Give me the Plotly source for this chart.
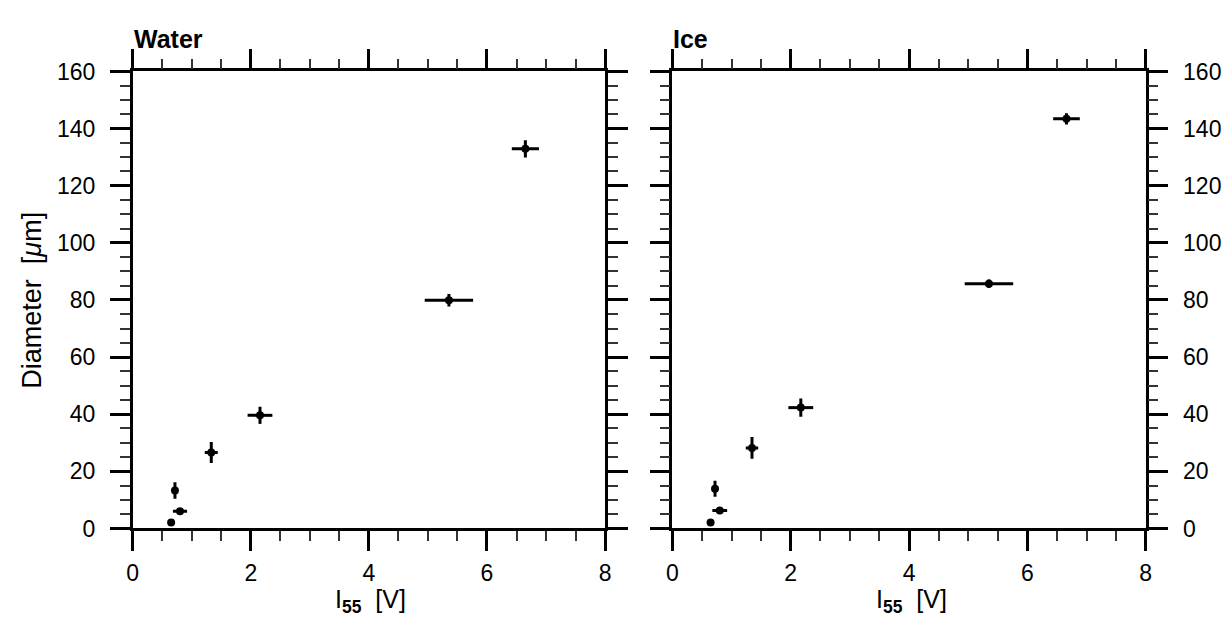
import plotly.graph_objects as go

# Calibration points: sensor voltage I55 vs. particle diameter
water_x = [0.65, 0.80, 0.715, 1.33, 2.155, 5.355, 6.65]
water_y = [2.1, 6.0, 13.3, 26.6, 39.6, 79.9, 132.9]
water_xerr = [0.0, 0.12, 0.03, 0.11, 0.21, 0.41, 0.23]
water_yerr = [0.0, 1.0, 2.9, 3.7, 3.0, 2.2, 3.0]

ice_x = [0.645, 0.80, 0.72, 1.345, 2.17, 5.35, 6.66]
ice_y = [2.1, 6.3, 13.9, 28.2, 42.3, 85.7, 143.4]
ice_xerr = [0.0, 0.125, 0.03, 0.105, 0.21, 0.41, 0.225]
ice_yerr = [0.0, 1.0, 2.8, 3.8, 3.2, 1.5, 2.0]

panel_titles = ["Water", "Ice"]
x_title = "I<sub><b>55</b></sub>\u00a0\u00a0[V]"
y_title = "Diameter\u00a0\u00a0[<i>\u03bc</i>m]"

W, H = 1227, 620
FONT = "Liberation Sans, Arial, sans-serif"

fig = go.Figure()


def add_series(x, y, xe, ye, xa, ya):
    fig.add_trace(go.Scatter(
        x=x, y=y, mode="markers", xaxis=xa, yaxis=ya,
        marker=dict(color="black", size=8),
        error_x=dict(type="data", array=xe, visible=True, color="black",
                     thickness=3, width=0),
        error_y=dict(type="data", array=ye, visible=True, color="black",
                     thickness=3, width=0),
        showlegend=False, hoverinfo="x+y",
    ))


add_series(water_x, water_y, water_xerr, water_yerr, "x", "y")
add_series(ice_x, ice_y, ice_xerr, ice_yerr, "x2", "y2")

# pixel layout of the two square panels
left1, right1 = 128, 605
left2, right2 = 673, 1151
top, bottom = 61, 538

px = lambda v: v / W
py = lambda v: 1 - v / H

common_x = dict(
    range=[0, 8], tick0=0, dtick=2, showgrid=False, zeroline=False,
    showline=True, linecolor="black", linewidth=2.5, mirror="ticks",
    ticks="outside", ticklen=20, tickwidth=2.5, tickcolor="black",
    ticklabelstandoff=2,
    minor=dict(ticks="outside", ticklen=10, tickwidth=1.5, tickcolor="#333",
               dtick=0.5, showgrid=False),
    tickfont=dict(family=FONT, size=23, color="black"),
)
common_y = dict(
    range=[0, 160], tick0=0, dtick=20, showgrid=False, zeroline=False,
    showline=True, linecolor="black", linewidth=2.5, mirror="ticks",
    ticks="outside", ticklen=20, tickwidth=2.5, tickcolor="black",
    ticklabelstandoff=10,
    minor=dict(ticks="outside", ticklen=10, tickwidth=1.5, tickcolor="#333",
               dtick=5, showgrid=False),
    tickfont=dict(family=FONT, size=23, color="black"),
)

fig.update_layout(
    width=W, height=H,
    margin=dict(l=0, r=0, t=0, b=0),
    paper_bgcolor="white", plot_bgcolor="white",
    xaxis=dict(domain=[px(left1), px(right1)], anchor="y", **common_x),
    yaxis=dict(domain=[py(bottom), py(top)], anchor="x", **common_y),
    xaxis2=dict(domain=[px(left2), px(right2)], anchor="y2", **common_x),
    yaxis2=dict(domain=[py(bottom), py(top)], anchor="x2", side="right",
                **common_y),
)

# panel titles and x-axis titles
for name, left, right in zip(panel_titles, [left1, left2], [right1, right2]):
    fig.add_annotation(
        text="<b>" + name + "</b>", xref="paper", yref="paper",
        x=px(left - 1), y=py(27),
        xanchor="left", yanchor="middle", showarrow=False,
        font=dict(family=FONT, size=25, color="black"),
    )
    fig.add_annotation(
        text=x_title, xref="paper", yref="paper",
        x=px((left + right) / 2 + 2), y=py(632),
        xanchor="center", yanchor="bottom", showarrow=False, borderpad=0,
        font=dict(family=FONT, size=25, color="black"),
    )

# shared y-axis title on the left
fig.add_annotation(
    text=y_title, xref="paper", yref="paper", x=px(26), y=py((top + bottom) / 2),
    xanchor="center", yanchor="middle", textangle=-90, showarrow=False,
    font=dict(family=FONT, size=27, color="black"),
)

fig.write_html("out.html")
